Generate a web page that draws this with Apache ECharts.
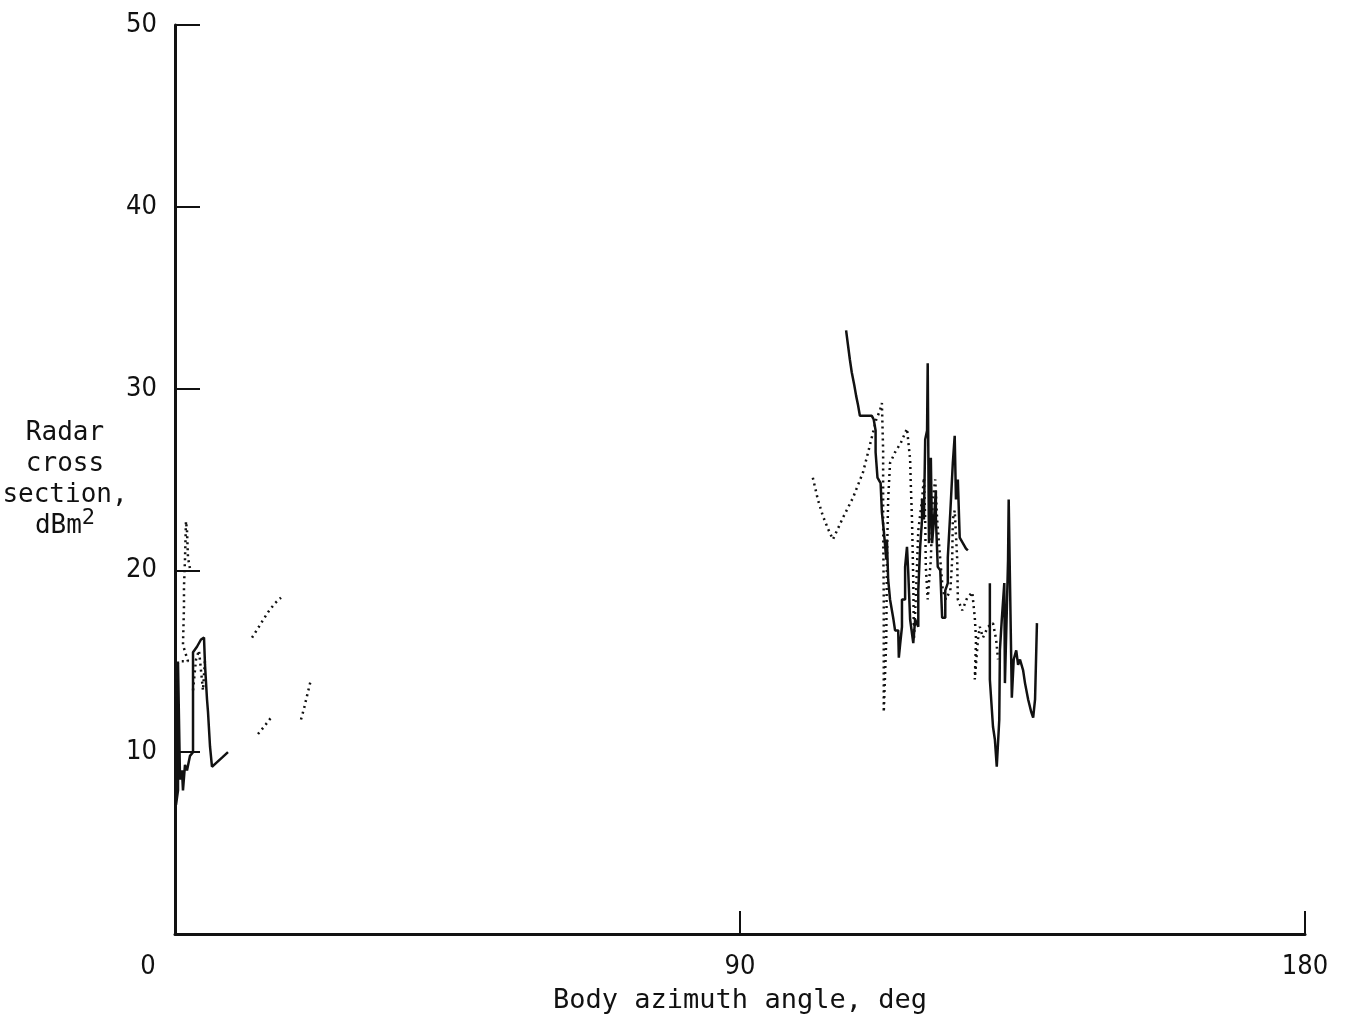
<!DOCTYPE html>
<html>
<head>
<meta charset="utf-8">
<script src="https://cdn.jsdelivr.net/npm/echarts@6/dist/echarts.min.js"></script>
<style>html,body{margin:0;padding:0;background:#fff}#c{width:1348px;height:1024px}</style>
</head>
<body>
<div id="c"></div>
<script>
// Axis ticks
const xTicks = [0, 90, 180];
const yTicks = [10, 20, 30, 40, 50];

// Solid trace (body azimuth deg, RCS dBm^2), segments
const solidLeft = [[0.16,7.1],[0.48,7.9],[0.48,14.9],[0.80,8.5],[1.12,9.0],[1.27,7.9],[1.59,9.3],[1.91,9.0],[2.39,9.8],[2.87,10.0],[2.87,15.5],[3.50,15.8],[4.14,16.2],[4.62,16.3],[4.78,14.8],[5.10,12.9],[5.26,12.2],[5.58,10.3],[5.89,9.2],[6.53,9.4],[7.49,9.7],[8.44,10.0]];
const solidMid = [[106.9,33.2],[107.2,32.4],[107.5,31.6],[107.8,30.9],[108.2,30.2],[108.5,29.6],[108.8,29.1],[109.1,28.5],[110.1,28.5],[111.0,28.5],[111.3,28.3],[111.6,27.7],[111.6,26.5],[111.9,26.5],[111.9,25.1],[112.4,24.8],[112.6,23.2],[112.9,22.2],[113.3,20.6],[113.4,21.7],[113.6,19.5],[113.9,18.4],[114.2,18.4],[114.4,17.4],[114.7,17.4],[114.7,16.7],[115.2,16.7],[115.3,15.2],[115.5,15.9],[115.8,16.9],[115.8,18.4],[116.3,18.4],[116.3,20.2],[116.6,21.3],[116.8,19.9],[117.1,19.9],[117.1,17.3],[117.6,16.0],[117.9,17.3],[118.4,16.9],[118.4,18.9],[118.7,21.3],[119.0,22.8],[119.0,23.9],[119.3,22.8],[119.5,27.2],[119.8,27.7],[119.9,31.4],[120.1,21.5],[120.4,26.2],[120.6,21.5],[120.9,22.8],[121.2,24.4],[121.2,22.9],[121.5,22.9],[121.5,20.2],[121.9,20.0],[122.2,17.4],[122.7,17.4],[122.7,18.9],[123.1,19.3],[123.1,20.7],[123.5,23.2],[123.8,23.3],[123.9,25.9],[124.2,27.4],[124.4,23.9],[124.7,25.0],[125.0,21.8],[125.5,21.5],[126.0,21.2],[126.3,21.1]];
const solidRight = [[129.8,19.3],[129.8,14.0],[130.3,11.4],[130.6,10.7],[130.9,9.2],[131.3,11.8],[131.4,15.6],[131.7,17.3],[132.1,19.3],[132.2,13.8],[132.5,17.8],[132.7,20.6],[132.8,23.9],[133.0,19.5],[133.3,13.0],[133.6,15.1],[134.0,15.6],[134.3,14.8],[134.6,15.1],[135.1,14.5],[135.4,13.8],[135.9,12.9],[136.4,12.2],[136.7,11.9],[137.0,12.9],[137.3,13.0],[137.3,17.1]];

// Dotted trace, segments
const dotLeftA = [[0.16,12.9],[0.48,15.0],[2.07,15.0],[1.27,15.9],[1.43,18.0],[1.43,19.1],[1.59,20.6],[1.75,22.7],[1.91,22.2],[2.07,20.7],[2.39,20.1]];
const dotLeftB = [[2.87,13.4],[3.35,15.1],[3.82,15.6],[4.14,14.5],[4.46,13.4],[4.78,15.1]];
const dotFaintA = [[12.27,16.3],[13.54,17.0],[14.81,17.7],[15.93,18.2],[16.88,18.5]];
const dotFaintB = [[13.22,11.0],[14.18,11.4],[15.29,11.9]];
const dotFaintC = [[20.07,11.8],[20.55,12.4],[21.03,13.1],[21.66,14.0]];
const dotMid = [[101.6,25.1],[102.4,23.9],[103.2,23.0],[104.0,22.3],[104.8,21.7],[105.6,22.3],[106.4,22.9],[108.0,24.0],[109.6,25.4],[110.7,26.9],[111.7,28.3],[112.3,28.8],[112.6,29.2],[112.8,26.6],[112.8,22.8],[112.9,18.4],[112.9,12.2],[113.3,16.2],[113.4,20.6],[113.6,23.9],[113.9,25.9],[114.7,26.5],[115.6,27.0],[116.6,27.8],[117.1,26.1],[117.2,24.8],[117.4,22.8],[117.6,19.5],[117.7,16.2],[118.0,18.4],[118.4,22.2],[119.0,23.9],[119.3,25.1],[119.5,22.8],[119.6,20.2],[119.9,18.4],[120.4,20.6],[120.7,23.9],[121.1,25.0],[121.4,22.8],[121.9,20.6],[122.3,18.9],[122.8,18.4],[123.5,18.9],[123.8,20.6],[123.9,22.8],[124.2,23.3],[124.6,20.6],[124.7,18.4],[125.4,17.8],[126.2,18.5],[127.0,18.8],[127.4,17.4],[127.6,16.2],[127.4,14.0],[127.9,16.2],[128.2,16.9],[128.7,16.3],[129.5,16.9],[130.3,17.1],[130.8,16.2],[131.1,15.1]];

function joinSegs(segs){
  const out = [];
  segs.forEach((s,i)=>{ if(i>0) out.push(null); s.forEach(p=>out.push(p)); });
  return out;
}

const chart = echarts.init(document.getElementById('c'), null, {renderer:'canvas'});
const ink = '#111';
const tickFont = "'DejaVu Sans Condensed','Liberation Sans',sans-serif";
const monoFont = "'DejaVu Sans Mono','Liberation Mono',monospace";
chart.setOption({
  animation:false,
  backgroundColor:'#fff',
  grid:{left:175, right:43, top:25, bottom:90, containLabel:false, outerBoundsMode:'none'},
  xAxis:{
    type:'value', min:xTicks[0], max:xTicks[xTicks.length-1], interval:90,
    name:'Body azimuth angle, deg', nameLocation:'middle', nameGap:53, nameMoveOverlap:false,
    nameTextStyle:{fontFamily:monoFont, fontSize:27, color:ink},
    axisLine:{show:true, onZero:false, lineStyle:{color:ink, width:3}},
    axisTick:{show:true, inside:true, length:23, lineStyle:{color:ink, width:2}},
    splitLine:{show:false},
    axisLabel:{margin:19, color:ink, fontFamily:tickFont, fontSize:27,
      formatter:function(v){ return v===0 ? '{z|0}' : String(v); },
      rich:{z:{fontFamily:tickFont, fontSize:27, color:ink, padding:[0,54,0,0]}}}
  },
  yAxis:{
    type:'value', min:0, max:yTicks[yTicks.length-1], interval:10,
    name:'{t|Radar}\n{t|cross}\n{t|section,}\n{t|dBm}{s|2}', nameLocation:'middle', nameGap:110, nameRotate:0, nameMoveOverlap:false,
    nameTextStyle:{align:'center', verticalAlign:'middle', fontFamily:monoFont, fontSize:26, color:ink, lineHeight:31,
      rich:{t:{fontFamily:monoFont, fontSize:26, color:ink, lineHeight:31},
            s:{fontFamily:monoFont, fontSize:22, color:ink, lineHeight:31, padding:[0,0,16,0]}}},
    axisLine:{show:true, onZero:false, lineStyle:{color:ink, width:3}},
    axisTick:{show:true, inside:true, length:25, lineStyle:{color:ink, width:2}},
    splitLine:{show:false},
    axisLabel:{margin:18, color:ink, fontFamily:tickFont, fontSize:27, showMinLabel:false,
      formatter:function(v){ return v===0 ? '' : String(v); }}
  },
  series:[
    {type:'line', data:joinSegs([solidLeft, solidMid, solidRight]), showSymbol:false, connectNulls:false,
      lineStyle:{color:ink, width:2.5}},
    {type:'line', data:joinSegs([dotLeftA, dotLeftB, dotFaintA, dotFaintB, dotFaintC, dotMid]), showSymbol:false, connectNulls:false,
      lineStyle:{color:ink, width:2.5, type:[2,4]}}
  ]
});
</script>
</body>
</html>
